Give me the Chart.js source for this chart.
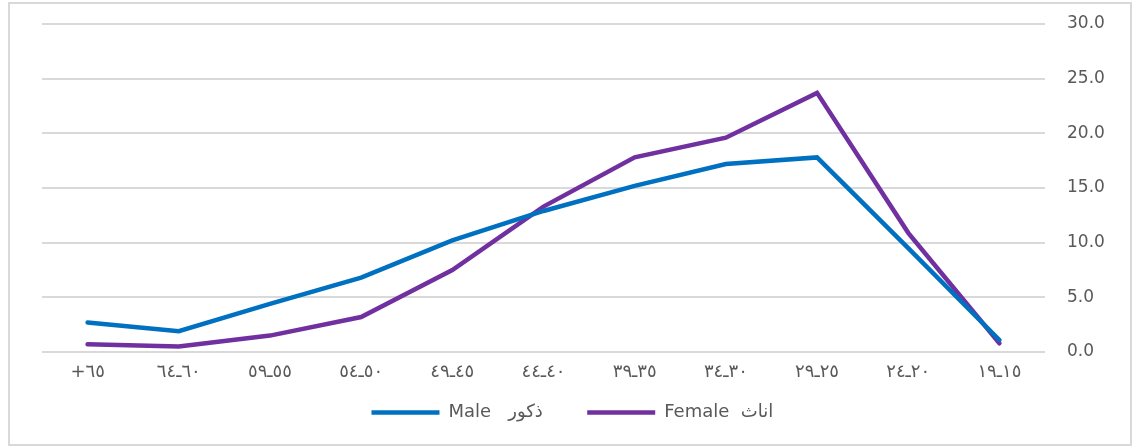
<!DOCTYPE html>
<html>
<head>
<meta charset="utf-8">
<script src="https://cdn.jsdelivr.net/npm/chart.js@4"></script>
<style>
  body { margin: 0; background: #fff; overflow: hidden; }
  #frame { position: absolute; left: 8px; top: 2px; width: 1124px; height: 444px; border: 2px solid #d9d9d9; box-sizing: border-box; }
  #chart { position: absolute; left: 0; top: 0; }
</style>
</head>
<body>
<div id="frame"></div>
<canvas id="chart" width="1137" height="446"></canvas>
<script>
// age groups, youngest first (axis is drawn reversed like the original)
var ageLabels = ['١٥ـ١٩', '٢٠ـ٢٤', '٢٥ـ٢٩', '٣٠ـ٣٤', '٣٥ـ٣٩', '٤٠ـ٤٤', '٤٥ـ٤٩', '٥٠ـ٥٤', '٥٥ـ٥٩', '٦٠ـ٦٤', '+٦٥'];
var maleValues = [1.1, 9.5, 17.8, 17.2, 15.2, 12.9, 10.2, 6.8, 4.4, 1.9, 2.7];
var femaleValues = [0.8, 10.9, 23.7, 19.6, 17.8, 13.3, 7.5, 3.2, 1.5, 0.5, 0.7];
var yTicks = [0, 5, 10, 15, 20, 25, 30];

var grey = '#595959';
var family = '"DejaVu Sans", sans-serif';

new Chart(document.getElementById('chart'), {
  type: 'line',
  data: {
    labels: ageLabels,
    datasets: [
      // trailing spaces just widen the legend items like the original
      { label: 'Male   ذكور      ', data: maleValues, borderColor: '#0070c0', backgroundColor: '#0070c0', borderWidth: 4.5, borderCapStyle: 'round', pointRadius: 0, tension: 0 },
      { label: 'Female  اناث      ', data: femaleValues, borderColor: '#7030a0', backgroundColor: '#7030a0', borderWidth: 4.5, borderCapStyle: 'round', pointRadius: 0, tension: 0 }
    ]
  },
  options: {
    responsive: false,
    animation: false,
    layout: { padding: { left: 42, top: 24, right: 0, bottom: 14.4 } },
    plugins: {
      tooltip: { enabled: false },
      legend: {
        position: 'bottom',
        labels: {
          usePointStyle: true,
          pointStyle: 'line',
          pointStyleWidth: 68,
          padding: 10,
          color: grey,
          font: { family: family, size: 18 }
        }
      }
    },
    scales: {
      x: {
        reverse: true,
        offset: true,
        grid: { display: false, drawTicks: false, tickLength: 0 },
        border: { display: false },
        ticks: { color: grey, font: { family: family, size: 18 }, padding: 10, maxRotation: 0, autoSkip: false }
      },
      y: {
        position: 'right',
        min: 0,
        max: 30,
        afterBuildTicks: function(s) { s.ticks = yTicks.map(function(v) { return { value: v }; }); },
        afterFit: function(s) { s.width = 92; s.paddingTop = 0; s.paddingBottom = 0; },
        grid: { color: '#d9d9d9', lineWidth: 2, drawTicks: false },
        border: { display: false },
        ticks: {
          color: grey,
          font: { family: family, size: 17 },
          padding: 22,
          callback: function(v) { return v.toFixed(1); }
        }
      }
    }
  }
});
</script>
</body>
</html>
